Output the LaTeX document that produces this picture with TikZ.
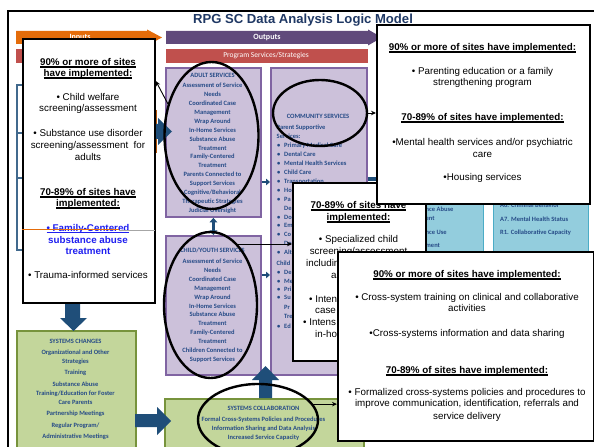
\documentclass[tikz,border=0pt]{standalone}
\usepackage{fontspec}
\setmainfont{Liberation Sans}
\newfontfamily\carlito{Carlito}
\usetikzlibrary{arrows.meta,shapes.geometric}

\definecolor{lavfill}{HTML}{CCC1DA}
\definecolor{lavedge}{HTML}{8064A2}
\definecolor{grnfill}{HTML}{C3D69B}
\definecolor{grnedge}{HTML}{77933C}
\definecolor{tealfill}{HTML}{93CDDD}
\definecolor{tealedge}{HTML}{4BACC6}
\definecolor{boxblue}{HTML}{264B87}
\definecolor{blockblue}{HTML}{1F4E79}
\definecolor{inorange}{HTML}{E46C0A}
\definecolor{outpurple}{HTML}{604A7B}
\definecolor{barred}{HTML}{C0504D}
\definecolor{titlenavy}{HTML}{1F3864}
\definecolor{linkblue}{HTML}{1F1FF0}

% heavy underline for the headings, thin one for the linked item
\newcommand{\thickul}[1]{\leavevmode\setbox0=\hbox{#1}\rlap{\rule[-2.3pt]{\wd0}{1.2pt}}\box0}
\newcommand{\thinul}[1]{\leavevmode\setbox0=\hbox{#1}\rlap{\rule[-1.8pt]{\wd0}{0.7pt}}\box0}

\tikzset{
  lavbox/.style={draw=lavedge, fill=lavfill, line width=1.8bp, inner sep=0pt, anchor=north west},
  grnbox/.style={draw=grnedge, fill=grnfill, line width=1.8bp, inner sep=0pt, anchor=north west},
  tealbox/.style={draw=tealedge, fill=tealfill, line width=1.2bp, inner sep=0pt, anchor=north west},
  notebox/.style={draw=black, fill=white, line width=1.8bp, inner sep=0pt, anchor=north west},
  ring/.style={ellipse, draw=black, line width=2.4bp, inner sep=0pt},
  pointer/.style={draw=black, line width=0.9bp, -{Stealth[length=5bp,width=4.5bp]}},
  thinblue/.style={draw=blockblue, line width=2bp, -{Triangle[length=4bp,width=6.5bp]}},
  callline/.style={font=\fontsize{9.8bp}{11.7bp}\selectfont, inner sep=0pt, anchor=base},
  boxline/.style={font=\carlito\bfseries\fontsize{6.5bp}{8bp}\selectfont, text=boxblue, inner sep=0pt, anchor=base},
  barlabel/.style={font=\carlito\bfseries\fontsize{8bp}{9bp}\selectfont, text=white, inner sep=0pt},
}

\begin{document}
\begin{tikzpicture}[x=1bp,y=-1bp]
\fill[white] (0,0) rectangle (594,447);
\useasboundingbox (0,0) rectangle (594,447);

% outer frame
\draw[line width=2.2bp] (8.3,449) -- (8.3,11) -- (596,11);

% title
\node[font=\bfseries\fontsize{13.1bp}{15bp}\selectfont, text=titlenavy, inner sep=0pt] (title) at (303,20) {RPG SC Data Analysis Logic Model};

% header bars
\fill[inorange] (16,31) -- (147,31) -- (147,29.5) -- (162,37.5) -- (147,45.5) -- (147,44) -- (16,44) -- cycle;
\node[barlabel] (inputslbl) at (80,37.5) {Inputs};
\fill[barred] (16,49) rectangle (152,63);
\fill[outpurple] (166,31) -- (368,31) -- (368,29.5) -- (382,37.5) -- (368,45.5) -- (368,44) -- (166,44) -- cycle;
\node[barlabel] (outputslbl) at (267,37.5) {Outputs};
\fill[barred] (166,49) rectangle (368,63);
\node[font=\carlito\fontsize{7.5bp}{9bp}\selectfont, text=white, inner sep=0pt] (progbar) at (266,56) {Program Services/Strategies};

% input bracket
\draw[blockblue!85, line width=2bp] (24,85) -- (16.5,85) -- (16.5,250) -- (24,250);
\draw[blockblue!85, line width=2bp] (16.5,133) -- (24,133);
\draw[blockblue!85, line width=2bp] (16.5,178) -- (24,178);
\draw[inorange!80!black, line width=1bp] (156,110) -- (156,153);

% service boxes
\node[lavbox, minimum width=95bp, minimum height=149bp] (adult) at (165,67) {};
\node[lavbox, minimum width=95bp, minimum height=139bp] (child) at (165,235) {};
\node[lavbox, minimum width=96bp, minimum height=307bp] (comm) at (270,67) {};
\node[grnbox, minimum width=119bp, minimum height=130bp] (syschg) at (16,330) {};
\node[grnbox, minimum width=199bp, minimum height=60bp] (syscol) at (164,398) {};
\node[tealbox, minimum width=95bp, minimum height=170bp] (outA) at (388,160) {};
\node[tealbox, minimum width=95bp, minimum height=170bp] (outB) at (493,160) {};

% adult services
\node[boxline] (adult-h) at (212.5,77.2) {ADULT SERVICES};
\foreach \ty/\lntext [count=\k] in {
  85.3/{Assessment of Service}, 94.3/{Needs}, 103.3/{Coordinated Case},
  112.3/{Management}, 121.3/{Wrap Around}, 130.3/{In-Home Services},
  139.3/{Substance Abuse}, 148.3/{Treatment}, 156.7/{Family-Centered},
  165.3/{Treatment}, 174.3/{Parents Connected to}, 183.3/{Support Services},
  192.3/{Cognitive/Behavioral}, 201.7/{Therapeutic Strategies}, 210.3/{Judicial Oversight}}
  \node[boxline] (adult-l\k) at ({212.5},{\ty+2.2}) {\lntext};

% child / youth services
\node[boxline] (child-h) at (212.5,252.2) {CHILD/YOUTH SERVICES};
\foreach \ty/\lntext [count=\k] in {
  261.7/{Assessment of Service}, 270.7/{Needs}, 279.7/{Coordinated Case},
  288.7/{Management}, 297.7/{Wrap Around}, 306.3/{In-Home Services},
  314.7/{Substance Abuse}, 323.7/{Treatment}, 332.3/{Family-Centered},
  341.3/{Treatment}, 350.3/{Children Connected to}, 359.3/{Support Services}}
  \node[boxline] (child-l\k) at ({212.5},{\ty+2.2}) {\lntext};

% community services (lower part runs under the child-services note)
\node[boxline] (comm-h) at (318,118.2) {COMMUNITY SERVICES};
\foreach \ty/\lntext [count=\k] in {
  127.3/{Parent Supportive}, 136.7/{Services:}, 263.5/{Child}}
  \node[boxline, anchor=base west] (comm-s\k) at ({276.5},{\ty+2.2}) {\lntext};
\foreach \ty/\lntext [count=\k] in {
  145.7/{Primary Medical Care}, 154/{Dental Care}, 163.3/{Mental Health Services},
  172.3/{Child Care}, 181/{Transportation}, 190/{Ho},
  199/{Pa}, 217/{Do}, 225.5/{Em},
  234.5/{Co}, 252.5/{Alt},
  272.5/{De}, 281/{Me},
  289.3/{Pri}, 297.5/{Su}, 326/{Ed}}
  \node[boxline, anchor=base west] (comm-b\k) at ({277},{\ty+2.2}) {\makebox[7bp][l]{\textbullet}\lntext};
\foreach \ty/\lntext [count=\k] in {
  208/{De}, 243.5/{De}, 307/{Pr}, 316/{Tre}}
  \node[boxline, anchor=base west] (comm-c\k) at ({284},{\ty+2.2}) {\lntext};

% systems changes
\foreach \ty/\lntext [count=\k] in {
  341.7/{SYSTEMS CHANGES}, 352.7/{Organizational and Other}, 361.3/{Strategies},
  372.3/{Training}, 384.7/{Substance Abuse}, 393.3/{Training/Education for Foster},
  402.3/{Care Parents}, 413.7/{Partnership Meetings}, 425/{Regular Program/},
  436.7/{Administrative Meetings}}
  \node[boxline] (syschg-l\k) at ({75.5},{\ty+2.2}) {\lntext};

% systems collaboration
\foreach \ty/\lntext [count=\k] in {
  408.3/{SYSTEMS COLLABORATION}, 419/{Formal Cross-Systems Policies and Procedures},
  428.3/{Information Sharing and Data Analysis}, 437.3/{Increased Service Capacity}}
  \node[boxline] (syscol-l\k) at ({263.5},{\ty+2.2}) {\lntext};

% outcome measures
\foreach \ty/\lntext [count=\k] in {
  209/{nce Abuse}, 218/{ent}, 232/{nce Use}, 245/{ment}}
  \node[boxline, anchor=base west] (outA-l\k) at ({425.5},{\ty+2.2}) {\lntext};
\foreach \ty/\lntext [count=\k] in {
  205/{A6. Criminal Behavior}, 219/{A7. Mental Health Status}, 232/{R1. Collaborative Capacity}}
  \node[boxline, anchor=base west] (outB-l\k) at ({500},{\ty+2.2}) {\lntext};

% flow arrows between boxes
\draw[thinblue] (adult.east |- 0,182) -- (comm.west |- 0,182);
\draw[thinblue] (child.east |- 0,275) -- (comm.west |- 0,275);
\draw[blockblue, line width=4bp] (comm.east |- 0,179.5) -- (392,179.5);
\draw[blockblue, line width=2.6bp, {Triangle[length=4.5bp,width=7.5bp]}-{Triangle[length=4.5bp,width=7.5bp]}] (adult.south) -- (child.north);

% block arrows
\fill[blockblue] (140,124) -- (158,124) -- (158,118) -- (172,131.5) -- (158,145) -- (158,139) -- (140,139) -- cycle;
\fill[blockblue] (65,298) -- (80,298) -- (80,318) -- (87,318) -- (73.5,331) -- (60,318) -- (65,318) -- cycle;
\fill[blockblue] (135,414) -- (157,414) -- (157,407) -- (171,421) -- (157,435) -- (157,427) -- (135,427) -- cycle;
\fill[blockblue] (259,398) -- (259,380) -- (252,380) -- (265.5,366) -- (279,380) -- (272,380) -- (272,398) -- cycle;

% highlight rings
\node[ring, minimum width=94bp, minimum height=147bp] (adultring) at (211.5,135.5) {};
\node[ring, minimum width=93bp, minimum height=146bp] (childring) at (210.5,305) {};
\node[ring, minimum width=94bp, minimum height=66bp] (commring) at (320,113) {};
\node[ring, minimum width=120bp, minimum height=72bp] (syscring) at (258,420) {};

% note: specialised child services (right part runs under the collaboration note)
\node[notebox, minimum width=133bp, minimum height=178bp] (c3) at (292,182) {};
\foreach \ty/\lntext [count=\k] in {
  205/{\bfseries\thickul{70-89\% of sites have}}, 217/{\bfseries\thickul{implemented:}},
  239/{\textbullet\ Specialized child}, 251/{screening/assessment}}
  \node[callline] (c3-l\k) at ({358.5},{\ty+3.3}) {\lntext};
\foreach \ty/\tx/\lntext [count=\k] in {
  263/306/{includin}, 275/331/{as},
  299/309/{\textbullet\ Inten}, 310.5/315/{case},
  322/303/{\textbullet\ Intens}, 334/315/{in-ho}}
  \node[callline, anchor=base west] (c3-f\k) at ({\tx},{\ty+3.3}) {\lntext};

% note: community services
\node[notebox, minimum width=213bp, minimum height=179bp] (c2) at (376,24) {};
\foreach \ty/\lntext [count=\k] in {
  47/{\bfseries\thickul{90\% or more of sites have implemented:}},
  71/{\textbullet\ Parenting education or a family}, 82/{strengthening program},
  117/{\bfseries\thickul{70-89\% of sites have implemented:}},
  142/{\textbullet Mental health services and/or psychiatric}, 154/{care},
  177/{\textbullet Housing services}}
  \node[callline] (c2-l\k) at ({482.5},{\ty+3.3}) {\lntext};

% note: systems collaboration
\node[notebox, minimum width=256bp, minimum height=189bp] (c4) at (337,251) {};
\foreach \ty/\lntext [count=\k] in {
  274/{\bfseries\thickul{90\% or more of sites have implemented:}},
  297/{\textbullet\ Cross-system training on clinical and collaborative},
  308/{activities},
  333/{\textbullet Cross-systems information and data sharing},
  370/{\bfseries\thickul{70-89\% of sites have implemented:}},
  391.7/{\textbullet\ Formalized cross-systems policies and procedures to},
  403.5/{improve communication, identification, referrals and},
  416/{service delivery}}
  \node[callline] (c4-l\k) at ({467},{\ty+3.3}) {\lntext};

% note: adult screening and treatment
\node[notebox, minimum width=132bp, minimum height=264bp] (c1) at (22,38) {};
\foreach \ty/\lntext [count=\k] in {
  62/{\bfseries\thickul{90\% or more of sites}}, 73/{\bfseries\thickul{have implemented:}},
  97/{\textbullet\ Child welfare}, 108/{screening/assessment},
  133/{\textbullet\ Substance use disorder}, 145/{screening/assessment~ for}, 157/{adults},
  192/{\bfseries\thickul{70-89\% of sites have}}, 203/{\bfseries\thickul{implemented:}},
  228/{\color{linkblue}\bfseries\thinul{\textbullet\ Family-Centered}},
  240/{\color{linkblue}\bfseries substance abuse},
  251/{\color{linkblue}\bfseries treatment},
  275/{\textbullet\ Trauma-informed services}}
  \node[callline] (c1-l\k) at ({88},{\ty+3.3}) {\lntext};
\draw[inorange, line width=1bp] (22,230) -- (119,230);
\draw[gray!70, line width=0.5bp] (119,230) -- (155,230);

% pointers from rings to notes
\draw[pointer] (adultring.144) -- (c1.east |- 0,81);
\draw[pointer] (commring.east) -- (commring.east -| c2.west);
\draw[pointer] (childring.66) -- (childring.66 -| c3.west);
\draw[pointer] (syscring.16) -- (syscring.16 -| c4.west);
\end{tikzpicture}
\end{document}
